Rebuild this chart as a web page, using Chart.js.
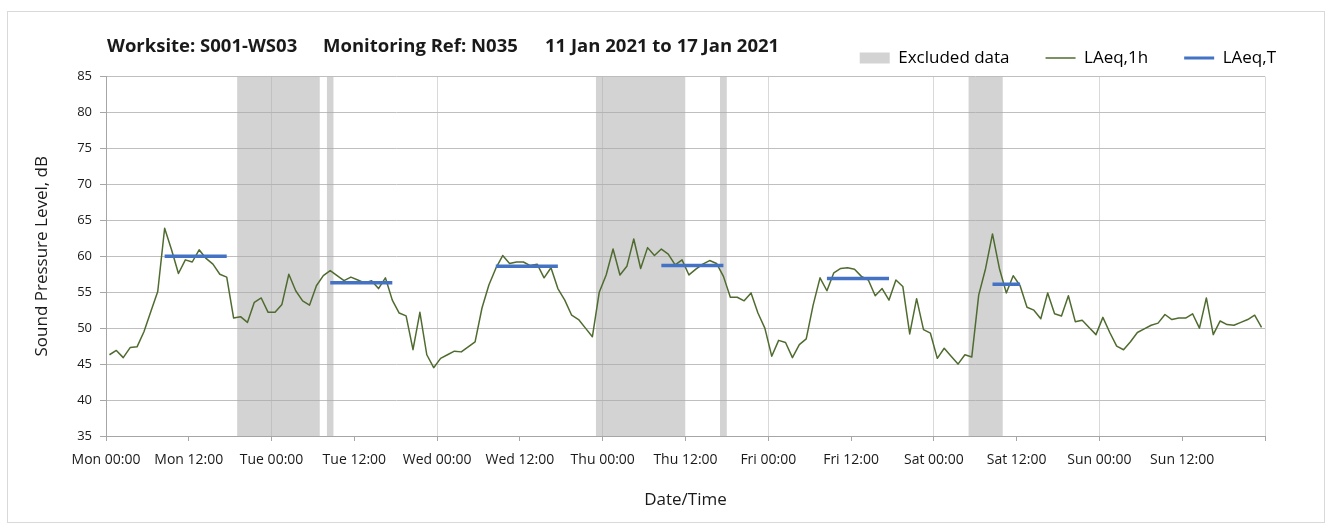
<!DOCTYPE html>
<html>
<head>
<meta charset="utf-8">
<title>Worksite S001-WS03 noise monitoring</title>
<script src="https://cdn.jsdelivr.net/npm/chart.js@4.4.1/dist/chart.umd.min.js"></script>
<style>
  body { margin: 0; background: #fff; }
  .chart-box {
    position: absolute;
    left: 7px;
    top: 11px;
    width: 1316px;
    height: 510px;
    border: 1px solid #d9d9d9;
  }
</style>
</head>
<body>
<div class="chart-box"><canvas id="chart"></canvas></div>
<script>
// hourly LAeq,1h from Mon 00:00, one value per hour (plotted at mid-hour)
const laeq1h = [
  46.3, 46.9, 45.9, 47.3, 47.4, 49.5, 52.3, 55.1, 63.9, 60.9,
  57.6, 59.5, 59.2, 60.9, 59.7, 58.9, 57.5, 57.1, 51.4, 51.6,
  50.8, 53.6, 54.2, 52.2, 52.2, 53.3, 57.5, 55.2, 53.8, 53.2,
  55.9, 57.3, 58.0, 57.3, 56.6, 57.1, 56.7, 56.3, 56.6, 55.5,
  57.0, 53.9, 52.1, 51.7, 47.0, 52.2, 46.3, 44.5, 45.8, 46.3,
  46.8, 46.7, 47.4, 48.1, 52.8, 56.0, 58.3, 60.1, 59.0, 59.2,
  59.2, 58.7, 58.9, 57.0, 58.4, 55.5, 53.9, 51.8, 51.2, 50.0,
  48.8, 55.0, 57.4, 61.0, 57.4, 58.6, 62.4, 58.3, 61.2, 60.1,
  61.0, 60.3, 58.8, 59.5, 57.4, 58.2, 58.9, 59.4, 59.0, 57.2,
  54.3, 54.3, 53.8, 54.9, 52.1, 50.0, 46.1, 48.3, 48.0, 45.9,
  47.7, 48.5, 53.2, 57.0, 55.2, 57.7, 58.3, 58.4, 58.2, 57.2,
  56.7, 54.5, 55.5, 53.9, 56.7, 55.8, 49.2, 54.1, 49.8, 49.3,
  45.8, 47.2, 46.1, 45.0, 46.3, 46.0, 54.6, 58.3, 63.1, 58.3,
  54.9, 57.3, 55.9, 52.9, 52.5, 51.3, 54.9, 52.0, 51.7, 54.5,
  50.9, 51.1, 50.1, 49.1, 51.5, 49.4, 47.5, 47.0, 48.1, 49.4,
  49.9, 50.4, 50.7, 51.9, 51.2, 51.4, 51.4, 52.0, 50.0, 54.2,
  49.1, 51.0, 50.5, 50.4, 50.8, 51.2, 51.8, 50.1
];

// LAeq,T periods (hours from Mon 00:00)
const laeqTStart = [8.5, 32.5, 56.5, 80.5, 104.5, 128.5];
const laeqTEnd = [17.5, 41.5, 65.5, 89.5, 113.5, 132.5];
const laeqTValue = [60.0, 56.3, 58.6, 58.7, 56.9, 56.1];

// excluded data periods (hours from Mon 00:00)
const excludedStart = [19, 32, 71, 89, 125];
const excludedEnd = [31, 33, 84, 90, 130];

const tickLabels = [
  'Mon 00:00', 'Mon 12:00', 'Tue 00:00', 'Tue 12:00', 'Wed 00:00', 'Wed 12:00',
  'Thu 00:00', 'Thu 12:00', 'Fri 00:00', 'Fri 12:00', 'Sat 00:00', 'Sat 12:00',
  'Sun 00:00', 'Sun 12:00', ''
];

const titleParts = ['Worksite: S001-WS03', 'Monitoring Ref: N035', '11 Jan 2021 to 17 Jan 2021'];

const Y_MIN = 35;
const Y_MAX = 85;
const GREEN = '#4f6b2f';
const BLUE = '#4472c4';
const TEXT = '#1a1a1a';

const lineData = laeq1h.map((v, i) => ({ x: i + 0.5, y: v }));

const periodData = [];
laeqTStart.forEach((s, i) => {
  periodData.push({ x: s, y: laeqTValue[i] }, { x: laeqTEnd[i], y: laeqTValue[i] }, { x: laeqTEnd[i], y: null });
});

const bandData = [];
excludedStart.forEach((s, i) => {
  bandData.push({ x: s, y: Y_MAX }, { x: excludedEnd[i], y: Y_MAX }, { x: excludedEnd[i], y: null });
});

Chart.defaults.font.family = "'Open Sans', 'Noto Sans', sans-serif";
Chart.defaults.color = TEXT;

const headerTitle = {
  id: 'headerTitle',
  afterDraw(chart) {
    const ctx = chart.ctx;
    const xs = [99, 315, 537];
    ctx.save();
    ctx.font = "bold 18.5px 'Open Sans', sans-serif";
    ctx.fillStyle = TEXT;
    ctx.textBaseline = 'middle';
    ctx.textAlign = 'left';
    titleParts.forEach((t, i) => ctx.fillText(t, xs[i], 35));
    ctx.restore();
  }
};

new Chart(document.getElementById('chart'), {
  type: 'line',
  data: {
    datasets: [
      {
        label: 'Excluded data',
        data: bandData,
        backgroundColor: 'rgba(170,170,170,0.52)',
        borderWidth: 0,
        pointRadius: 0,
        fill: 'start',
        spanGaps: false,
        order: 3
      },
      {
        label: 'LAeq,1h',
        data: lineData,
        borderColor: GREEN,
        borderWidth: 1.5,
        borderJoinStyle: 'round',
        pointRadius: 0,
        tension: 0,
        order: 2
      },
      {
        label: 'LAeq,T',
        data: periodData,
        borderColor: BLUE,
        borderWidth: 3.5,
        pointRadius: 0,
        spanGaps: false,
        order: 1
      }
    ]
  },
  options: {
    responsive: true,
    maintainAspectRatio: false,
    animation: false,
    events: [],
    layout: { padding: { top: -9.5, right: 12, bottom: 0, left: 0 } },
    plugins: {
      tooltip: { enabled: false },
      legend: {
        position: 'top',
        align: 'end',
        labels: {
          usePointStyle: true,
          pointStyleWidth: 30,
          boxHeight: 11,
          padding: 36,
          color: TEXT,
          font: { size: 17 },
          generateLabels: () => [
            { text: 'Excluded data', fillStyle: '#d3d3d3', strokeStyle: '#d3d3d3', lineWidth: 0, pointStyle: 'rect', datasetIndex: 0 },
            { text: 'LAeq,1h', fillStyle: GREEN, strokeStyle: GREEN, lineWidth: 1.5, pointStyle: 'line', datasetIndex: 1 },
            { text: 'LAeq,T', fillStyle: BLUE, strokeStyle: BLUE, lineWidth: 3, pointStyle: 'line', datasetIndex: 2 }
          ]
        }
      }
    },
    scales: {
      x: {
        type: 'linear',
        min: 0,
        max: 168,
        afterFit(scale) {
          scale.height = 86;
          scale.paddingRight = 59;
        },
        ticks: {
          stepSize: 12,
          autoSkip: false,
          maxRotation: 0,
          padding: 11,
          font: { size: 14 },
          callback: (v) => tickLabels[Math.round(v / 12)]
        },
        grid: {
          color: (ctx) => (ctx.tick && ctx.tick.value % 24 === 0 ? '#d9d9d9' : 'rgba(0,0,0,0)'),
          tickLength: 5,
          tickColor: '#a6a6a6'
        },
        border: { color: '#a6a6a6' },
        title: {
          display: true,
          text: 'Date/Time',
          font: { size: 17 },
          padding: { top: 0, bottom: 12 }
        }
      },
      y: {
        min: Y_MIN,
        max: Y_MAX,
        afterFit(scale) {
          scale.width = 98;
          scale.paddingTop = 64.5;
        },
        ticks: {
          stepSize: 5,
          padding: 8,
          font: { size: 13 }
        },
        grid: {
          color: '#bfbfbf',
          tickLength: 6,
          tickColor: '#a6a6a6'
        },
        border: { color: '#a6a6a6' },
        title: {
          display: true,
          text: 'Sound Pressure Level, dB',
          font: { size: 17 },
          padding: { top: 24, bottom: 0 }
        }
      }
    }
  },
  plugins: [headerTitle]
});
</script>
</body>
</html>
